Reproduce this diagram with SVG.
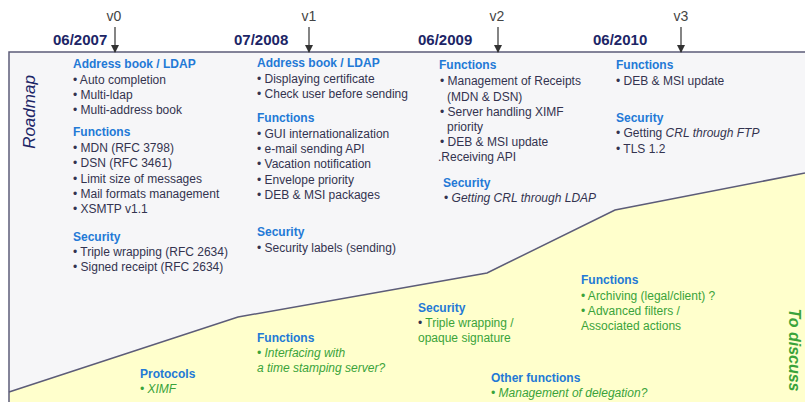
<svg xmlns="http://www.w3.org/2000/svg" width="805" height="402" viewBox="0 0 805 402">
  <defs>
    <marker id="arrow" viewBox="0 0 8 8" refX="7" refY="4" markerWidth="8" markerHeight="8" markerUnits="userSpaceOnUse" orient="auto">
      <path d="M0,0 L8,4 L0,8 z" fill="#333333"/>
    </marker>
  </defs>
  <style>
    text { font-family: "Liberation Sans", Arial, sans-serif; }
    .date { font-size: 15px; font-weight: bold; fill: #1c2566; }
    .ver { font-size: 14px; fill: #444444; }
    .head { font-size: 12px; font-weight: bold; fill: #2379d6; }
    .item { font-size: 12px; fill: #33334f; }
    .green { font-size: 12px; fill: #3aa33a; }
    .it { font-style: italic; }
    .arrow { stroke: #333333; stroke-width: 1.2; fill: none; }
    .edge { stroke: #5c5c78; stroke-width: 1.5; }
  </style>

  <rect width="805" height="402" fill="#ffffff"/>

  <!-- background bands: planned roadmap (grey) and items to discuss (yellow) -->
  <g id="bands">
    <path d="M9,52 L805,52 L805,173 L615,210 L487,273 L238,317 L9,392 Z" fill="#f6f6f8"/>
    <path d="M9,392 L238,317 L487,273 L615,210 L805,173 L805,402 L9,402 Z" fill="#ffffcc"/>
    <path class="edge" fill="none" d="M805,52 L9,52 L9,402"/>
    <path class="edge" fill="none" d="M9,392 L238,317 L487,273 L615,210 L805,173"/>
  </g>

  <!-- side captions -->
  <text id="roadmap-label" transform="translate(35,112) rotate(-90)" text-anchor="middle" font-size="17" font-style="italic" fill="#1c2566">Roadmap</text>
  <text id="discuss-label" transform="translate(789,350) rotate(90)" text-anchor="middle" font-size="16" font-weight="bold" font-style="italic" fill="#3aa33a">To discuss</text>

  <!-- release dates and versions -->
  <g id="dates">
    <text class="date" x="53" y="45">06/2007</text>
    <text class="date" x="234" y="45">07/2008</text>
    <text class="date" x="418" y="45">06/2009</text>
    <text class="date" x="593" y="45">06/2010</text>
    <text class="ver" x="114" y="21" text-anchor="middle">v0</text>
    <text class="ver" x="309" y="21" text-anchor="middle">v1</text>
    <text class="ver" x="497" y="21" text-anchor="middle">v2</text>
    <text class="ver" x="681" y="21" text-anchor="middle">v3</text>
  </g>

  <g id="connectors">
    <line class="arrow" x1="115" y1="27" x2="115" y2="52" marker-end="url(#arrow)"/>
    <line class="arrow" x1="309" y1="27" x2="309" y2="52" marker-end="url(#arrow)"/>
    <line class="arrow" x1="498" y1="27" x2="498" y2="52" marker-end="url(#arrow)"/>
    <line class="arrow" x1="681" y1="27" x2="681" y2="52" marker-end="url(#arrow)"/>
  </g>

  <!-- v0 -->
  <g id="v0">
    <text class="head" x="73" y="68">Address book / LDAP</text>
    <text class="item" x="73" y="84">• Auto completion</text>
    <text class="item" x="73" y="99">• Multi-ldap</text>
    <text class="item" x="73" y="114">• Multi-address book</text>
    <text class="head" x="73" y="136">Functions</text>
    <text class="item" x="73" y="152">• MDN (RFC 3798)</text>
    <text class="item" x="73" y="167">• DSN (RFC 3461)</text>
    <text class="item" x="73" y="183">• Limit size of messages</text>
    <text class="item" x="73" y="198">• Mail formats management</text>
    <text class="item" x="73" y="213">• XSMTP v1.1</text>
    <text class="head" x="73" y="241">Security</text>
    <text class="item" x="73" y="256">• Triple wrapping (RFC 2634)</text>
    <text class="item" x="73" y="271">• Signed receipt (RFC 2634)</text>
  </g>

  <!-- v1 -->
  <g id="v1">
    <text class="head" x="257" y="67">Address book / LDAP</text>
    <text class="item" x="257" y="83">• Displaying certificate</text>
    <text class="item" x="257" y="98">• Check user before sending</text>
    <text class="head" x="257" y="122">Functions</text>
    <text class="item" x="257" y="138">• GUI internationalization</text>
    <text class="item" x="257" y="153">• e-mail sending API</text>
    <text class="item" x="257" y="168">• Vacation notification</text>
    <text class="item" x="257" y="184">• Envelope priority</text>
    <text class="item" x="257" y="199">• DEB &amp; MSI packages</text>
    <text class="head" x="257" y="236">Security</text>
    <text class="item" x="257" y="252">• Security labels (sending)</text>
  </g>

  <!-- v2 -->
  <g id="v2">
    <text class="head" x="439" y="69">Functions</text>
    <text class="item" x="440" y="85">• Management of Receipts</text>
    <text class="item" x="447" y="101">(MDN &amp; DSN)</text>
    <text class="item" x="440" y="116">• Server handling XIMF</text>
    <text class="item" x="447" y="131">priority</text>
    <text class="item" x="440" y="146">• DEB &amp; MSI update</text>
    <text class="item" x="438" y="161">.Receiving API</text>
    <text class="head" x="443" y="187">Security</text>
    <text class="item" x="444" y="202">• <tspan class="it">Getting CRL through LDAP</tspan></text>
  </g>

  <!-- v3 -->
  <g id="v3">
    <text class="head" x="616" y="69">Functions</text>
    <text class="item" x="616" y="85">• DEB &amp; MSI update</text>
    <text class="head" x="616" y="122">Security</text>
    <text class="item" x="616" y="137">• Getting <tspan class="it">CRL through FTP</tspan></text>
    <text class="item" x="616" y="153">• TLS 1.2</text>
  </g>

  <!-- open topics -->
  <g id="protocols">
    <text class="head" x="140" y="378">Protocols</text>
    <text class="green it" x="140" y="393">• XIMF</text>
  </g>
  <g id="functions-timestamp">
    <text class="head" x="257" y="342">Functions</text>
    <text class="green it" x="257" y="357">• Interfacing with</text>
    <text class="green it" x="257" y="372">a time stamping server?</text>
  </g>
  <g id="security-opaque">
    <text class="head" x="418" y="312">Security</text>
    <text class="green" x="418" y="327"><tspan fill="#33334f">•</tspan> Triple wrapping /</text>
    <text class="green" x="418" y="342">opaque signature</text>
  </g>
  <g id="functions-archiving">
    <text class="head" x="581" y="284">Functions</text>
    <text class="green" x="581" y="300">• Archiving (legal/client) ?</text>
    <text class="green" x="581" y="315">• Advanced filters /</text>
    <text class="green" x="581" y="330">Associated actions</text>
  </g>
  <g id="other-functions">
    <text class="head" x="491" y="382">Other functions</text>
    <text class="green it" x="491" y="397">• Management of delegation?</text>
  </g>
</svg>
